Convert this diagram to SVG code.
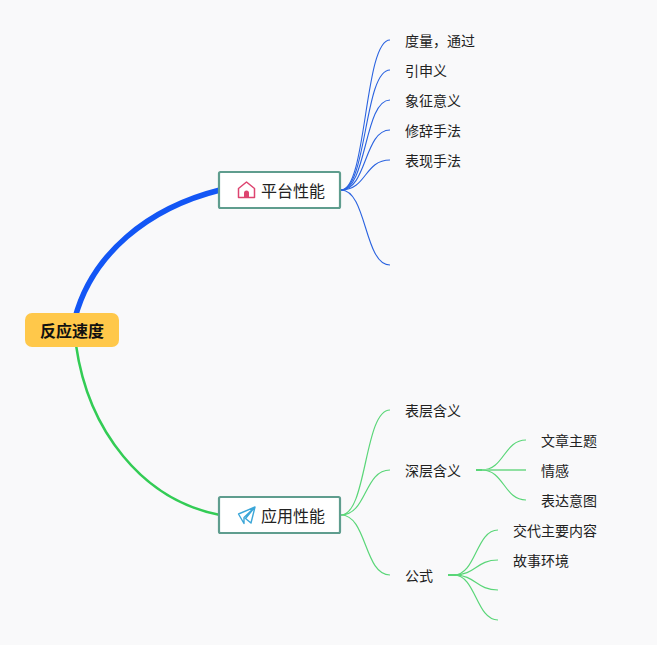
<svg xmlns="http://www.w3.org/2000/svg" width="657" height="645" viewBox="0 0 657 645">
<style>
text{font-family:"Noto Sans CJK SC","Liberation Sans",sans-serif;fill:#222}
.leaf{font-size:14px}
.sub{font-size:16px}
.box{fill:#fff;stroke:#5f9d8e;stroke-width:2.2}
.conn{fill:none}
.b{stroke:#2a63e0;stroke-width:1.1}
.g{stroke:#5ad678;stroke-width:1.2}
</style>
<rect width="657" height="645" fill="#f9f9fa"/>
<g id="connectors" class="conn">
<path d="M75 318C92 254 148 208 220 190" stroke="#1356f5" stroke-width="5.500" fill="none"/>
<path d="M76 345C88 430 142 500 220 515" stroke="#33cc55" stroke-width="2.500" fill="none"/>
<g class="b">
<path d="M341 190C367 190 364 40 390 40"/>
<path d="M341 190C367 190 364 70 390 70"/>
<path d="M341 190C367 190 364 100 390 100"/>
<path d="M341 190C367 190 364 130 390 130"/>
<path d="M341 190C367 190 364 160 390 160"/>
<path d="M341 190C367 190 364 265 390 265"/>
</g>
<g class="g">
<path d="M341 515C367 515 364 410 390 410"/>
<path d="M341 515C367 515 364 470 390 470"/>
<path d="M341 515C367 515 364 575 390 575"/>
<path d="M476 470H484" stroke-width="2"/>
<path d="M482 470C504 470 504 440 526 440"/>
<path d="M482 470H526" stroke-width="1.800" stroke="#90e0a2"/>
<path d="M482 470C504 470 504 500 526 500"/>
<path d="M448 575H456" stroke-width="2"/>
<path d="M454 575C476 575 476 530 498 530"/>
<path d="M454 575C476 575 476 560 498 560"/>
<path d="M454 575C476 575 476 590 498 590"/>
<path d="M454 575C476 575 476 620 498 620"/>
</g>
</g>
<g id="root">
<rect x="25" y="313" width="94" height="34" rx="7" fill="#ffc84a"/>
<text x="40" y="336.500" font-size="16" font-weight="700" style="fill:#111">反应速度</text>
</g>
<g id="platform">
<rect class="box" x="219" y="172" width="121" height="36" rx="1.500"/>
<path d="M238.500 188.500L246.500 182L254.500 188.500V197.500H238.500Z" fill="none" stroke="#dd4470" stroke-width="1.500" stroke-linejoin="round"/>
<path d="M244 197.500V193a2.500 2.500 0 0 1 5 0V197.500Z" fill="#dd4470"/>
<text class="sub" x="261" y="196.500">平台性能</text>
</g>
<g id="app">
<rect class="box" x="219" y="497" width="121" height="36" rx="1.500"/>
<path d="M238.500 514L255 507L251 523L245.500 518.500L255 507L244 517.500V523.500L238.500 514Z" fill="none" stroke="#3ba6d8" stroke-width="1.400" stroke-linejoin="round"/>
<text class="sub" x="261" y="521.500">应用性能</text>
</g>
<g id="n1"><text class="leaf" x="405" y="46">度量，通过</text></g>
<g id="n2"><text class="leaf" x="405" y="76">引申义</text></g>
<g id="n3"><text class="leaf" x="405" y="106">象征意义</text></g>
<g id="n4"><text class="leaf" x="405" y="136">修辞手法</text></g>
<g id="n5"><text class="leaf" x="405" y="166">表现手法</text></g>
<g id="n6"><text class="leaf" x="405" y="416">表层含义</text></g>
<g id="n7"><text class="leaf" x="405" y="476">深层含义</text></g>
<g id="n8"><text class="leaf" x="405" y="581">公式</text></g>
<g id="n9"><text class="leaf" x="541" y="446">文章主题</text></g>
<g id="n10"><text class="leaf" x="541" y="476">情感</text></g>
<g id="n11"><text class="leaf" x="541" y="506">表达意图</text></g>
<g id="n12"><text class="leaf" x="513" y="536">交代主要内容</text></g>
<g id="n13"><text class="leaf" x="513" y="566">故事环境</text></g>
</svg>
